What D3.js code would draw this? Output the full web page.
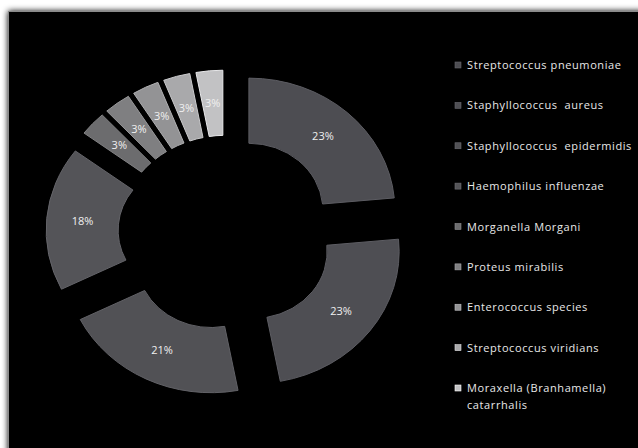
<!DOCTYPE html>
<html>
<head>
<meta charset="utf-8">
<script src="https://cdnjs.cloudflare.com/ajax/libs/d3/7.8.5/d3.min.js"></script>
<style>
  body { margin: 0; background: #fff; }
  svg { display: block; }
</style>
</head>
<body>
<div id="chart"></div>
<script>
// data
const organisms = [
  "Streptococcus pneumoniae",
  "Staphyllococcus  aureus",
  "Staphyllococcus  epidermidis",
  "Haemophilus influenzae",
  "Morganella Morgani",
  "Proteus mirabilis",
  "Enterococcus species",
  "Streptococcus viridians",
  "Moraxella (Branhamella) catarrhalis"
];
// share of the ring each slice takes
const shares = [23.5, 23.5, 20.6, 17.6, 2.95, 2.95, 2.95, 2.95, 2.95];
// the percentages printed on the slices
const pctLabels = ["23%", "23%", "21%", "18%", "3%", "3%", "3%", "3%", "3%"];

const W = 638, H = 448;
const sliceColors = ["#4d4d52", "#4e4e53", "#515155", "#545458", "#6c6c6e", "#7f7f81", "#939395", "#a9a9ab", "#c2c2c4"];

const svg = d3.select("#chart").append("svg")
  .attr("width", W)
  .attr("height", H);

const defs = svg.append("defs");
const shadow = defs.append("filter").attr("id", "sh")
  .attr("x", "-5%").attr("y", "-5%").attr("width", "110%").attr("height", "110%");
shadow.append("feGaussianBlur").attr("in", "SourceAlpha").attr("stdDeviation", 3);

// frame
svg.append("rect")
  .attr("x", 8).attr("y", 11)
  .attr("width", W).attr("height", H)
  .attr("fill", "#888").attr("filter", "url(#sh)");
svg.append("rect")
  .attr("x", 8.5).attr("y", 11.5)
  .attr("width", W).attr("height", H)
  .attr("fill", "#000")
  .attr("stroke", "#8a8a8a").attr("stroke-width", 1);

// donut (slightly squashed vertically, like the original)
const cx = 226, cy = 233, ky = 0.905;
const outerR = 146, innerR = 74, explode = 34;

const pie = d3.pie().sort(null).value(d => d)(shares);
const arc = d3.arc().innerRadius(innerR).outerRadius(outerR);
const labelArc = d3.arc().innerRadius((innerR + outerR) / 2).outerRadius((innerR + outerR) / 2);
const offset = d => {
  const a = (d.startAngle + d.endAngle) / 2;
  return [Math.sin(a) * explode, -Math.cos(a) * explode];
};

const g = svg.append("g").attr("transform", `translate(${cx},${cy}) scale(1,${ky})`);

g.selectAll("path")
  .data(pie)
  .join("path")
  .attr("transform", d => `translate(${offset(d)})`)
  .attr("d", arc)
  .attr("fill", (d, i) => sliceColors[i])
  .attr("stroke", (d, i) => d3.color(sliceColors[i]).brighter(0.5))
  .attr("stroke-width", 1)
  .attr("vector-effect", "non-scaling-stroke");

svg.append("g")
  .selectAll("text")
  .data(pie)
  .join("text")
  .attr("x", d => cx + labelArc.centroid(d)[0] + offset(d)[0])
  .attr("y", d => cy + (labelArc.centroid(d)[1] + offset(d)[1]) * ky)
  .attr("text-anchor", "middle")
  .attr("dy", "0.35em")
  .attr("fill", "#f0f0f0")
  .style("font-family", "'Open Sans', sans-serif")
  .style("font-size", "11px")
  .text((d, i) => pctLabels[i]);

// legend
const legend = svg.append("g").attr("transform", "translate(455,0)");
const rowY = d3.scalePoint().domain(d3.range(organisms.length)).range([65, 388]);

const items = legend.selectAll("g")
  .data(organisms)
  .join("g")
  .attr("transform", (d, i) => `translate(0,${rowY(i)})`);

items.append("rect")
  .attr("x", 0).attr("y", -3)
  .attr("width", 6).attr("height", 6)
  .attr("fill", (d, i) => sliceColors[i])
  .attr("stroke", (d, i) => d3.color(sliceColors[i]).brighter(0.8))
  .attr("stroke-width", 0.6);

items.append("text")
  .attr("x", 12)
  .attr("y", 4)
  .attr("fill", "#e8e8e8")
  .style("font-family", "'Open Sans', sans-serif")
  .style("font-size", "11px")
  .style("letter-spacing", "0.6px")
  .style("white-space", "pre")
  .each(function(d) {
    const t = d3.select(this);
    if (d.length > 28) {
      const cut = d.lastIndexOf(" ");
      t.append("tspan").attr("x", 12).text(d.slice(0, cut));
      t.append("tspan").attr("x", 12).attr("dy", 17).text(d.slice(cut + 1));
    } else {
      t.text(d);
    }
  });
</script>
</body>
</html>
